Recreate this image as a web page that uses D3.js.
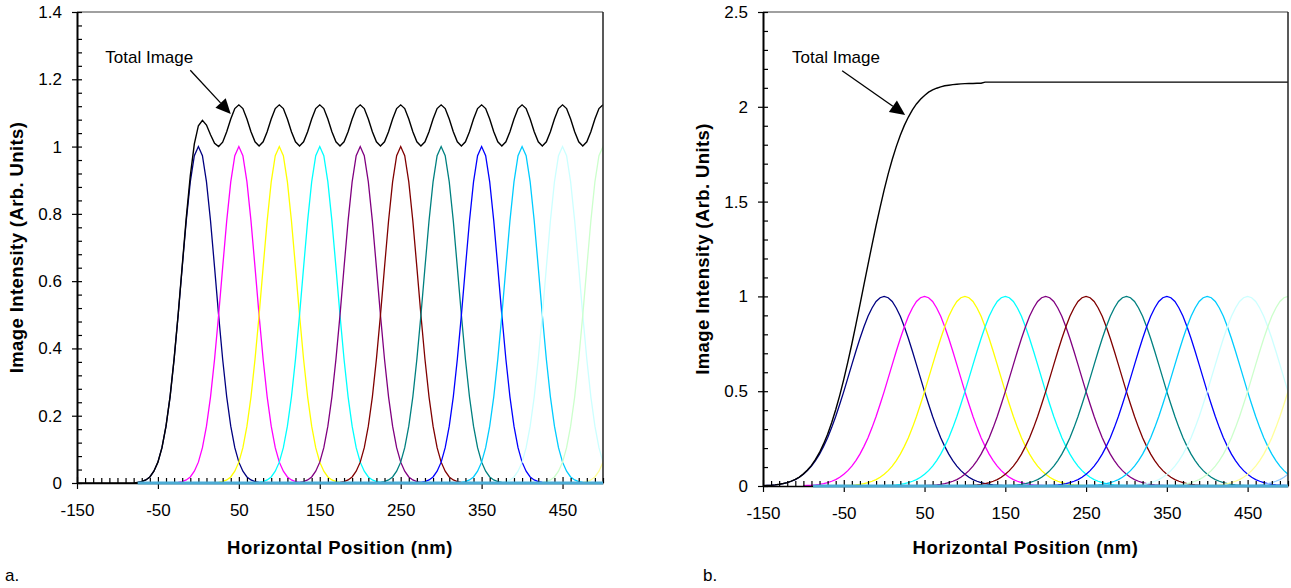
<!DOCTYPE html>
<html>
<head>
<meta charset="utf-8">
<script src="https://cdn.jsdelivr.net/npm/d3@7"></script>
<style>
	body { margin: 0; background: #fff; }
	svg { display: block; font-family: "Liberation Sans", Arial, sans-serif; }
</style>
</head>
<body>
<svg id="chart" width="1291" height="588"></svg>
<script>
// tick labels
const xTicks = [-150, -50, 50, 150, 250, 350, 450];
const leftYTicks = [0, 0.2, 0.4, 0.6, 0.8, 1, 1.2, 1.4];
const rightYTicks = [0, 0.5, 1, 1.5, 2, 2.5];

// one peak per source position, Excel default line colours
const peakCenters = [0, 50, 100, 150, 200, 250, 300, 350, 400, 450, 500, 550, 600];
const peakColors = ["#000080", "#FF00FF", "#FFFF00", "#00FFFF", "#800080", "#800000",
	"#008080", "#0000FF", "#00CCFF", "#CCFFFF", "#CCFFCC", "#FFFF99", "#99CCFF"];

// single peak shape, read every 5 nm from the centre (a: -75..75, b: -150..150)
const leftProfile = [0.002, 0.004, 0.009, 0.018, 0.035, 0.062, 0.105, 0.169, 0.256, 0.368,
	0.499, 0.641, 0.779, 0.895, 0.973, 1, 0.973, 0.895, 0.779, 0.641,
	0.499, 0.368, 0.256, 0.169, 0.105, 0.062, 0.035, 0.018, 0.009, 0.004, 0.002];
const rightProfile = [0.002, 0.003, 0.004, 0.006, 0.009, 0.013, 0.018, 0.025, 0.034, 0.046,
	0.062, 0.081, 0.105, 0.134, 0.168, 0.209, 0.255, 0.308, 0.367, 0.431,
	0.498, 0.569, 0.640, 0.711, 0.778, 0.840, 0.895, 0.939, 0.973, 0.993, 1,
	0.993, 0.973, 0.939, 0.895, 0.840, 0.778, 0.711, 0.640, 0.569, 0.498,
	0.431, 0.367, 0.308, 0.255, 0.209, 0.168, 0.134, 0.105, 0.081, 0.062,
	0.046, 0.034, 0.025, 0.018, 0.013, 0.009, 0.006, 0.004, 0.003, 0.002];

// total image, every 5 nm from -150 to 500
const leftTotal = [0, 0, 0, 0, 0, 0, 0, 0, 0, 0, 0, 0, 0, 0, 0,
	0.002, 0.004, 0.009, 0.018, 0.035, 0.062, 0.105, 0.169, 0.256, 0.369,
	0.501, 0.645, 0.788, 0.913, 1.008,
	1.062, 1.078, 1.064, 1.035, 1.010, 1.000, 1.013, 1.044, 1.082, 1.113,
	1.124, 1.113, 1.082, 1.044, 1.014, 1.002, 1.014, 1.044, 1.082, 1.113,
	1.124, 1.113, 1.082, 1.044, 1.014, 1.002, 1.014, 1.044, 1.082, 1.113,
	1.124, 1.113, 1.082, 1.044, 1.014, 1.002, 1.014, 1.044, 1.082, 1.113,
	1.124, 1.113, 1.082, 1.044, 1.014, 1.002, 1.014, 1.044, 1.082, 1.113,
	1.124, 1.113, 1.082, 1.044, 1.014, 1.002, 1.014, 1.044, 1.082, 1.113,
	1.124, 1.113, 1.082, 1.044, 1.014, 1.002, 1.014, 1.044, 1.082, 1.113,
	1.124, 1.113, 1.082, 1.044, 1.014, 1.002, 1.014, 1.044, 1.082, 1.113,
	1.124, 1.113, 1.082, 1.044, 1.014, 1.002, 1.014, 1.044, 1.082, 1.113,
	1.124, 1.113, 1.082, 1.044, 1.014, 1.002, 1.014, 1.044, 1.082, 1.113,
	1.124];
const rightTotal = [0.002, 0.003, 0.004, 0.006, 0.009, 0.013, 0.018, 0.026, 0.035, 0.047,
	0.064, 0.084, 0.109, 0.140, 0.177, 0.222, 0.273, 0.334, 0.402, 0.478,
	0.562, 0.653, 0.749, 0.851, 0.955, 1.062, 1.168, 1.272, 1.374, 1.470,
	1.562, 1.646, 1.722, 1.790, 1.850, 1.902, 1.946, 1.984, 2.015, 2.040,
	2.060, 2.077, 2.089, 2.098, 2.105, 2.111, 2.114, 2.117, 2.119, 2.121,
	2.122, 2.123, 2.123, 2.124, 2.124, 2.13, 2.13, 2.13, 2.13, 2.13,
	2.13, 2.13, 2.13, 2.13, 2.13, 2.13, 2.13, 2.13, 2.13, 2.13,
	2.13, 2.13, 2.13, 2.13, 2.13, 2.13, 2.13, 2.13, 2.13, 2.13,
	2.13, 2.13, 2.13, 2.13, 2.13, 2.13, 2.13, 2.13, 2.13, 2.13,
	2.13, 2.13, 2.13, 2.13, 2.13, 2.13, 2.13, 2.13, 2.13, 2.13,
	2.13, 2.13, 2.13, 2.13, 2.13, 2.13, 2.13, 2.13, 2.13, 2.13,
	2.13, 2.13, 2.13, 2.13, 2.13, 2.13, 2.13, 2.13, 2.13, 2.13,
	2.13, 2.13, 2.13, 2.13, 2.13, 2.13, 2.13, 2.13, 2.13, 2.13,
	2.13];

const panels = [
	{
		id: "a", left: 77, right: 603, top: 12, bottom: 483, letterX: 5,
		yMax: 1.4, yTicks: leftYTicks, yMinor: 0.04,
		profile: leftProfile, halfWidth: 75, nPeaks: 12, total: leftTotal,
		baseStart: -75,
		note: { text: [-115, 1.248], from: [-10, 1.227], to: [40, 1.097] }
	},
	{
		id: "b", left: 763, right: 1288, top: 12, bottom: 486, letterX: 703,
		yMax: 2.5, yTicks: rightYTicks, yMinor: 0.1,
		profile: rightProfile, halfWidth: 150, nPeaks: 13, total: rightTotal,
		baseStart: -88,
		note: { text: [-114, 2.231], from: [-52, 2.19], to: [26, 1.957] }
	}
];

let svg = d3.select("#chart");
svg.append("rect").attr("width", 1291).attr("height", 588).attr("fill", "#fff");

function drawPanel(p)
{
	let x = d3.scaleLinear().domain([-150, 500]).range([p.left, p.right]);
	let y = d3.scaleLinear().domain([0, p.yMax]).range([p.bottom, p.top]);
	let g = svg.append("g").attr("id", "panel-" + p.id);

	g.append("clipPath").attr("id", "clip-" + p.id)
		.append("rect")
		.attr("x", p.left).attr("y", p.top - 2)
		.attr("width", p.right - p.left).attr("height", p.bottom - p.top + 4);

	let line = d3.line().x(d => x(d[0])).y(d => y(d[1]));
	let offsets = d3.range(-p.halfWidth, p.halfWidth + 1, 5);
	let grid = d3.range(-150, 501, 5);

	let plot = g.append("g").attr("clip-path", "url(#clip-" + p.id + ")");

	// individual source images
	let peaks = peakCenters.slice(0, p.nPeaks).map((c, i) => ({
		color: peakColors[i],
		pts: p.profile.map((v, k) => [c + offsets[k], v])
	}));
	plot.selectAll("path.peak")
		.data(peaks)
		.join("path")
		.classed("peak", true)
		.attr("d", d => line(d.pts))
		.attr("fill", "none")
		.attr("stroke", d => d.color)
		.attr("stroke-width", 1.3);

	// total image
	plot.append("path")
		.attr("d", line(p.total.map((v, k) => [grid[k], v])))
		.attr("fill", "none")
		.attr("stroke", "#000")
		.attr("stroke-width", 1.4);

	// frame: gray top, dark right
	g.append("line")
		.attr("x1", p.left).attr("x2", p.right)
		.attr("y1", p.top).attr("y2", p.top)
		.attr("stroke", "#808080").attr("stroke-width", 1.5);
	g.append("line")
		.attr("x1", p.right).attr("x2", p.right)
		.attr("y1", p.top).attr("y2", p.bottom)
		.attr("stroke", "#222").attr("stroke-width", 1.5);

	// y axis
	let yMinorVals = d3.range(0, p.yMax + 1e-9, p.yMinor)
		.filter(v => !p.yTicks.some(t => Math.abs(t - v) < 1e-6));
	g.append("g")
		.attr("transform", "translate(" + p.left + ",0)")
		.call(d3.axisLeft(y).tickValues(yMinorVals).tickSize(-5).tickSizeOuter(0).tickFormat(""))
		.call(a => a.select(".domain").remove())
		.call(a => a.selectAll(".tick line").attr("stroke", "#000").attr("stroke-width", 1.2));
	g.append("g")
		.attr("transform", "translate(" + p.left + ",0)")
		.call(d3.axisLeft(y).tickValues(p.yTicks).tickSize(5).tickSizeOuter(0).tickPadding(10).tickFormat(d => String(d)))
		.call(a => a.select(".domain").attr("stroke", "#000").attr("stroke-width", 2))
		.call(a => a.selectAll(".tick line").attr("x1", 5).attr("stroke", "#000").attr("stroke-width", 1.2))
		.call(a => a.selectAll(".tick text").attr("font-size", 17).attr("font-family", "Liberation Sans, Arial, sans-serif").attr("fill", "#000"));

	// x axis
	let xMinorVals = d3.range(-150, 501, 10).filter(v => !xTicks.includes(v));
	g.append("g")
		.attr("transform", "translate(0," + p.bottom + ")")
		.call(d3.axisBottom(x).tickValues(xMinorVals).tickSize(-5).tickSizeOuter(0).tickFormat(""))
		.call(a => a.select(".domain").remove())
		.call(a => a.selectAll(".tick line").attr("stroke", "#000").attr("stroke-width", 1.2));
	g.append("g")
		.attr("transform", "translate(0," + p.bottom + ")")
		.call(d3.axisBottom(x).tickValues(xTicks).tickSize(6).tickSizeOuter(0).tickPadding(15).tickFormat(d => String(d)))
		.call(a => a.select(".domain").attr("stroke", "#000").attr("stroke-width", 1.5))
		.call(a => a.selectAll(".tick line").attr("y1", -6).attr("stroke", "#000").attr("stroke-width", 1.2))
		.call(a => a.selectAll(".tick text").attr("font-size", 17).attr("font-family", "Liberation Sans, Arial, sans-serif").attr("fill", "#000"));

	// light blue zero line over the axis
	g.append("line")
		.attr("x1", x(p.baseStart)).attr("x2", x(500))
		.attr("y1", y(0)).attr("y2", y(0))
		.attr("stroke", "#4BACD6").attr("stroke-width", 3);

	// axis titles
	g.append("text")
		.attr("x", (p.left + p.right) / 2).attr("y", 554)
		.attr("text-anchor", "middle")
		.attr("font-size", 18.5).attr("font-weight", "bold").attr("letter-spacing", 0.5)
		.text("Horizontal Position (nm)");
	g.append("text")
		.attr("transform", "translate(" + (p.left - 54) + "," + ((p.top + p.bottom) / 2) + ") rotate(-90)")
		.attr("text-anchor", "middle")
		.attr("font-size", 18.5).attr("font-weight", "bold").attr("letter-spacing", 0.4)
		.text("Image Intensity (Arb. Units)");

	// panel letter
	g.append("text")
		.attr("x", p.letterX).attr("y", 581)
		.attr("font-size", 17)
		.text(p.id + ".");

	// "Total Image" callout with arrow
	g.append("text")
		.attr("x", x(p.note.text[0])).attr("y", y(p.note.text[1]))
		.attr("font-size", 17)
		.text("Total Image");
	let x1 = x(p.note.from[0]), y1 = y(p.note.from[1]);
	let x2 = x(p.note.to[0]), y2 = y(p.note.to[1]);
	let ang = Math.atan2(y2 - y1, x2 - x1);
	let hl = 15, hw = 7;
	let bx = x2 - hl * Math.cos(ang), by = y2 - hl * Math.sin(ang);
	g.append("line")
		.attr("x1", x1).attr("y1", y1).attr("x2", bx).attr("y2", by)
		.attr("stroke", "#000").attr("stroke-width", 1.3);
	g.append("path")
		.attr("d", "M" + x2 + "," + y2 +
			"L" + (bx + hw * Math.sin(ang)) + "," + (by - hw * Math.cos(ang)) +
			"L" + (bx - hw * Math.sin(ang)) + "," + (by + hw * Math.cos(ang)) + "Z")
		.attr("fill", "#000");
}

panels.forEach(drawPanel);
</script>
</body>
</html>
